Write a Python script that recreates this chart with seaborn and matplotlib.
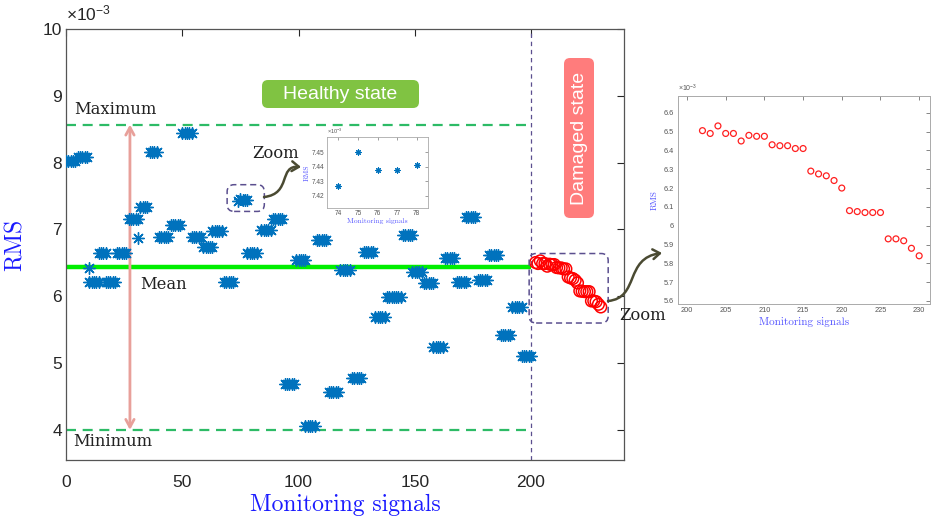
import numpy as np
import pandas as pd
import matplotlib
matplotlib.use("Agg")
import matplotlib.pyplot as plt
import seaborn as sns
from matplotlib.patches import FancyBboxPatch, FancyArrowPatch
from matplotlib.path import Path

# ---------------- data (RMS in units of 1e-3) ----------------
cl_start = [0, 5, 10, 17, 14, 22, 27, 32, 36, 40, 45, 50, 54, 59, 63, 68, 78, 84, 89,
            94, 99, 103, 108, 113, 118, 123, 128, 133, 138, 145, 149, 154, 158, 163,
            168, 172, 177, 182, 187, 192, 196]
cl_count = [5, 5, 5, 5, 4, 5, 5, 4, 4, 5, 5, 5, 5, 5, 5, 5, 5, 5, 5,
            5, 5, 5, 5, 5, 5, 5, 5, 5, 7, 5, 5, 5, 5, 5,
            5, 5, 5, 5, 5, 5, 5]
cl_rms = [8.03, 8.09, 6.22, 6.22, 6.65, 6.65, 7.16, 7.34, 8.16, 6.89, 7.07, 8.45, 6.89,
          6.74, 6.98, 6.21, 6.65, 6.99, 7.16, 4.69, 6.54, 4.06, 6.84, 4.57, 6.39, 4.78,
          6.66, 5.69, 5.99, 6.92, 6.36, 6.20, 5.24, 6.57, 6.21, 7.19, 6.24, 6.62, 5.42,
          5.84, 5.11]
single_signal = [10, 31]
single_rms = [6.43, 6.87]

zoom_signal = [74, 75, 76, 77, 78]
zoom_rms = [7.427, 7.450, 7.4375, 7.4375, 7.4414]

dmg_signal = list(range(202, 231))
dmg_rms = [6.505, 6.49, 6.53, 6.49, 6.49, 6.45, 6.48, 6.475, 6.475, 6.43, 6.425, 6.425,
           6.41, 6.41, 6.29, 6.275, 6.265, 6.24, 6.20, 6.08, 6.075, 6.07, 6.07, 6.07,
           5.93, 5.93, 5.92, 5.88, 5.84]

mean_rms = 6.44
max_rms = 8.57
min_rms = 4.00

# build healthy table
hx, hy = [], []
for s, n, v in zip(cl_start, cl_count, cl_rms):
    for k in range(n):
        hx.append(s + k)
        hy.append(v)
hx += single_signal + zoom_signal
hy += single_rms + zoom_rms
healthy = pd.DataFrame({"signal": hx, "rms": hy})
damaged = pd.DataFrame({"signal": dmg_signal, "rms": dmg_rms})
zoomdf = pd.DataFrame({"signal": zoom_signal, "rms": zoom_rms})

# ---------------- style ----------------
sns.set_style("white")
plt.rcParams["font.family"] = ["Liberation Sans", "DejaVu Sans"]
plt.rcParams["mathtext.default"] = "regular"

BLUE = "#0072bd"
AXC = "#262626"
LAB = "#1a1aff"
STAR = (8, 2, 0)

fig = plt.figure(figsize=(9.33, 5.25), dpi=100)
W, H = 933, 525


def fx(px):
    return px / W


def fy(py):
    return 1 - py / H


ax = fig.add_axes([fx(66), fy(460), (624 - 66) / W, (460 - 29) / H])

sns.scatterplot(data=healthy, x="signal", y="rms", ax=ax, marker=STAR, s=70,
                color=BLUE, edgecolor=BLUE, linewidth=1.0, legend=False, zorder=3)
sns.scatterplot(data=damaged, x="signal", y="rms", ax=ax, marker="o", s=70,
                facecolor="none", edgecolor="red", linewidth=1.1, legend=False, zorder=4)

ax.hlines(mean_rms, 0, 200, color="#00ee00", lw=3.2, zorder=2)
ax.hlines([max_rms, min_rms], 0, 200, color="#2dbb66", lw=1.6, ls=(0, (4.5, 3)), zorder=2)
ax.axvline(200, color="#5b4f8f", lw=0.9, ls=(0, (3.5, 3)), zorder=1)

ax.set_xlim(0, 240)
ax.set_ylim(3.55, 10)
ax.set_xticks([0, 50, 100, 150, 200])
ax.set_yticks([4, 5, 6, 7, 8, 9, 10])
ax.tick_params(direction="in", top=True, right=True, length=5, width=0.8,
               colors=AXC, labelsize=12.5)
ax.tick_params(axis="x", pad=11)
ax.tick_params(axis="y", pad=3)
for sp in ax.spines.values():
    sp.set_color("#555555")
    sp.set_linewidth(0.9)
ax.set_xlabel("Monitoring signals", family="cmr10", fontsize=17, color=LAB)
ax.set_ylabel("RMS", family="cmr10", fontsize=17, color=LAB)
ax.xaxis.set_label_coords(0.5, -0.078)
ax.yaxis.set_label_coords(-0.07, 0.5)
ax.text(0.0, 1.012, r"$\times 10^{-3}$", transform=ax.transAxes, fontsize=12.5,
        color=AXC, ha="left", va="bottom")

# text labels
SERIF = ["DejaVu Serif"]
ax.text(27.5 - 24, max_rms + 0.22, "Maximum", family=SERIF, fontsize=11.8, color="#222222",
        ha="left", va="center")
ax.text(3, min_rms - 0.18, "Minimum", family=SERIF, fontsize=11.8, color="#222222",
        ha="left", va="center")
ax.text(32, mean_rms - 0.27, "Mean", family=SERIF, fontsize=11.8, color="#222222",
        ha="left", va="center")
fig.text(fx(252), fy(154), "Zoom", family=SERIF, fontsize=11.8, color="#222222",
         ha="left", va="center")
fig.text(fx(619), fy(315), "Zoom", family=SERIF, fontsize=11.8, color="#222222",
         ha="left", va="center")

# min-max double arrow
ax.annotate("", xy=(27.5, max_rms), xytext=(27.5, min_rms),
            arrowprops=dict(arrowstyle="<->,head_length=0.55,head_width=0.3",
                            color="#e8a09a", lw=2.0, shrinkA=0, shrinkB=0), zorder=2)

# state boxes (pixel-placed layout)
inch = fig.dpi_scale_trans


def rbox(x0, y0, x1, y1, fc, ec="none", ls="-", lw=1.0, r=6):
    p = FancyBboxPatch((x0 / 100, (H - y1) / 100), (x1 - x0) / 100, (y1 - y0) / 100,
                       boxstyle=f"round,pad=0,rounding_size={r/100}", transform=inch,
                       fc=fc, ec=ec, ls=ls, lw=lw, zorder=5)
    fig.add_artist(p)


rbox(262, 80, 419, 108, "#80c342")
fig.text(fx(340.5), fy(94.5), "Healthy state", color="white", fontsize=14,
         ha="center", va="center", zorder=6)
rbox(564, 58, 594, 218, "#ff7c7c")
fig.text(fx(579.5), fy(138), "Damaged state", color="white", fontsize=14, rotation=90,
         ha="center", va="center", zorder=6)

# dashed zoom boxes derived from data
fig.canvas.draw()


def data_box(x0, y0, x1, y1):
    (a, b) = ax.transData.transform((x0, y0))
    (c, d) = ax.transData.transform((x1, y1))
    p = FancyBboxPatch((a / 100, d / 100), (c - a) / 100, (b - d) / 100,
                       boxstyle="round,pad=0,rounding_size=0.07", transform=inch,
                       fc="none", ec="#5b4f8f", ls=(0, (4, 2.5)), lw=1.1, zorder=5)
    fig.add_artist(p)


data_box(69.3, 7.67, 85.3, 7.27)
data_box(199.2, 6.64, 233.2, 5.60)

# curved arrows
ARC = "#4a4a32"


def curved(pts):
    verts = [(x / 100, (H - y) / 100) for x, y in pts]
    path = Path(verts, [Path.MOVETO, Path.CURVE4, Path.CURVE4, Path.CURVE4])
    a = FancyArrowPatch(path=path, arrowstyle="->,head_length=5,head_width=3.5",
                        transform=inch, color=ARC, lw=1.8, zorder=6)
    fig.add_artist(a)


curved([(264, 197), (292, 194), (278, 165), (301, 167)])
curved([(608, 301), (640, 298), (624, 258), (662, 253)])

# ---------------- middle inset ----------------
ax2 = fig.add_axes([fx(326.7), fy(207.7), (428.3 - 326.7) / W, (207.7 - 137.3) / H])
sns.scatterplot(data=zoomdf, x="signal", y="rms", ax=ax2, marker=STAR, s=14,
                color=BLUE, edgecolor=BLUE, linewidth=0.8, legend=False)
ax2.set_xlim(73.4, 78.6)
ax2.set_ylim(7.4117, 7.4604)
ax2.set_xticks([74, 75, 76, 77, 78])
ax2.set_yticks([7.42, 7.43, 7.44, 7.45])
ax2.tick_params(direction="in", top=True, right=True, length=2, width=0.4,
                colors="#555555", labelsize=4.7, pad=1.5)
for sp in ax2.spines.values():
    sp.set_color("#aaaaaa")
    sp.set_linewidth(0.6)
ax2.set_xlabel("Monitoring signals", family="cmr10", fontsize=5.4, color="#5555ff", labelpad=1)
ax2.set_ylabel("RMS", family="cmr10", fontsize=5.4, color="#5555ff", labelpad=1.5)
ax2.text(0.0, 1.02, r"$\times 10^{-3}$", transform=ax2.transAxes, fontsize=4,
         color="#555555", ha="left", va="bottom")

# ---------------- right inset ----------------
ax3 = fig.add_axes([fx(677.7), fy(304), (930 - 677.7) / W, (304 - 96) / H])
sns.scatterplot(data=damaged, x="signal", y="rms", ax=ax3, marker="o", s=18,
                facecolor="none", edgecolor="#ff2020", linewidth=0.9, legend=False)
ax3.set_xlim(198.8, 231.4)
ax3.set_ylim(5.584, 6.689)
ax3.set_xticks([200, 205, 210, 215, 220, 225, 230])
ax3.set_yticks([5.6, 5.7, 5.8, 5.9, 6.0, 6.1, 6.2, 6.3, 6.4, 6.5, 6.6])
ax3.set_yticklabels(["5.6", "5.7", "5.8", "5.9", "6", "6.1", "6.2", "6.3", "6.4", "6.5", "6.6"])
ax3.tick_params(direction="in", top=True, right=True, length=3, width=0.5,
                colors="#555555", labelsize=5.3, pad=2.5)
for sp in ax3.spines.values():
    sp.set_color("#aaaaaa")
    sp.set_linewidth(0.7)
ax3.set_xlabel("Monitoring signals", family="cmr10", fontsize=8, color="#5555ff", labelpad=2)
ax3.set_ylabel("RMS", family="cmr10", fontsize=6.5, color="#5555ff", labelpad=4)
ax3.text(0.0, 1.01, r"$\times 10^{-3}$", transform=ax3.transAxes, fontsize=5,
         color="#555555", ha="left", va="bottom")

fig.savefig("out.png", dpi=100)
